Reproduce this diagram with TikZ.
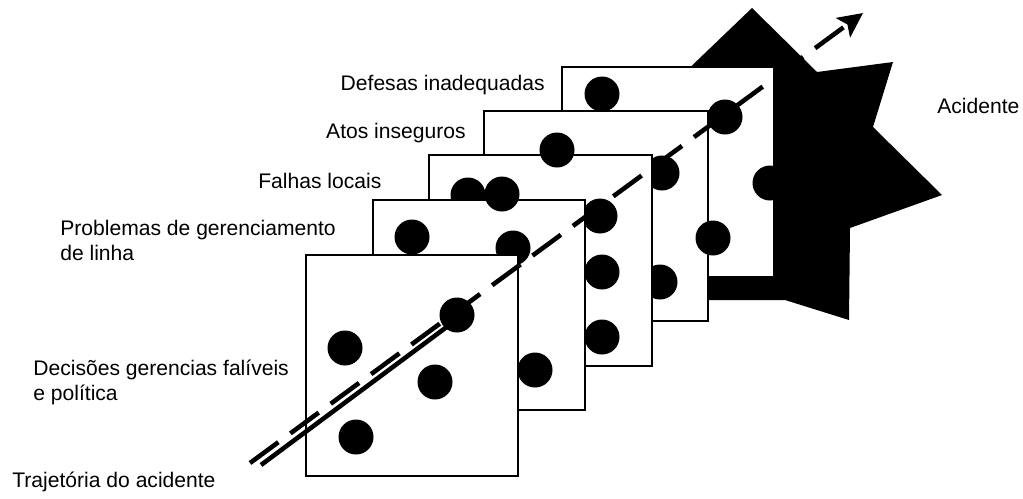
\documentclass[tikz,border=0pt]{standalone}
\usepackage{fontspec}
\setmainfont{Liberation Sans}
\usetikzlibrary{arrows.meta}

\begin{document}
\begin{tikzpicture}[x=0.02cm,y=-0.02cm,
  plate/.style={draw,fill=white,line width=0.9pt},
  hole/.style={fill=black},
  trail/.style={line width=2.6pt},
  lbl/.style={inner sep=0pt,font=\fontsize{12}{14.2}\selectfont}]
  \useasboundingbox (0,0) rectangle (1023,498);
  % the accident (burst behind the plates)
  \fill (752,8) -- (817,72) -- (893,62) -- (873,127) -- (942,195) -- (850,228)
    -- (849,320) -- (785,300) -- (700,300) -- (700,200) -- (680,77) -- cycle;
  % plates, from back to front
  \draw[plate] (562,67) rectangle (774,277);
  \fill[hole] (602,94) circle (17.5);
  \draw[plate] (484,111) rectangle (708,321);
  \fill[hole] (662,173) circle (17.5);
  \fill[hole] (660,282) circle (17.5);
  \draw[plate] (429,155) rectangle (652,366);
  \fill[hole] (468,195) circle (17.5);
  \fill[hole] (600,216) circle (17.5);
  \draw[plate] (373,200) rectangle (585,410);
  \fill[hole] (513,248) circle (17.5);
  \draw[plate] (306,255) rectangle (518,476);
  % holes lying on top
  \foreach \hx/\hy in {725/117, 770/183, 557/150, 713/238, 502/194, 602/272,
                       602/337, 535/370, 412/237, 457/315, 345/348, 435/382, 356/437}
    \fill[hole] (\hx,\hy) circle (17.5);
  % trajectory
  \coordinate (start) at (250,463);
  \coordinate (start2) at (261,465);
  \coordinate (tip) at (863,13);
  \coordinate (join) at (448,326);
  \draw[trail] (start2) -- (join);
  \draw[trail,dash pattern=on 20pt off 8.5pt,-{Stealth[length=14pt,width=13.5pt,inset=3pt]}] (start) -- (tip);
  % labels
  \node[lbl,anchor=base east] (defesas) at (545,90) {Defesas inadequadas};
  \node[lbl,anchor=base east] (atos) at (466,138) {Atos inseguros};
  \node[lbl,anchor=base west] (falhas) at (258,188) {Falhas locais};
  \node[lbl,anchor=base west,align=left] (gerlinha) at (60,260) {Problemas de gerenciamento\\de linha};
  \node[lbl,anchor=base west,align=left] (decisoes) at (33,400) {Decisões gerencias falíveis\\e política};
  \node[lbl,anchor=base west] (trajetoria) at (12,487) {Trajetória do acidente};
  \node[lbl,anchor=base west] (acidente) at (937,113) {Acidente};
\end{tikzpicture}
\end{document}
